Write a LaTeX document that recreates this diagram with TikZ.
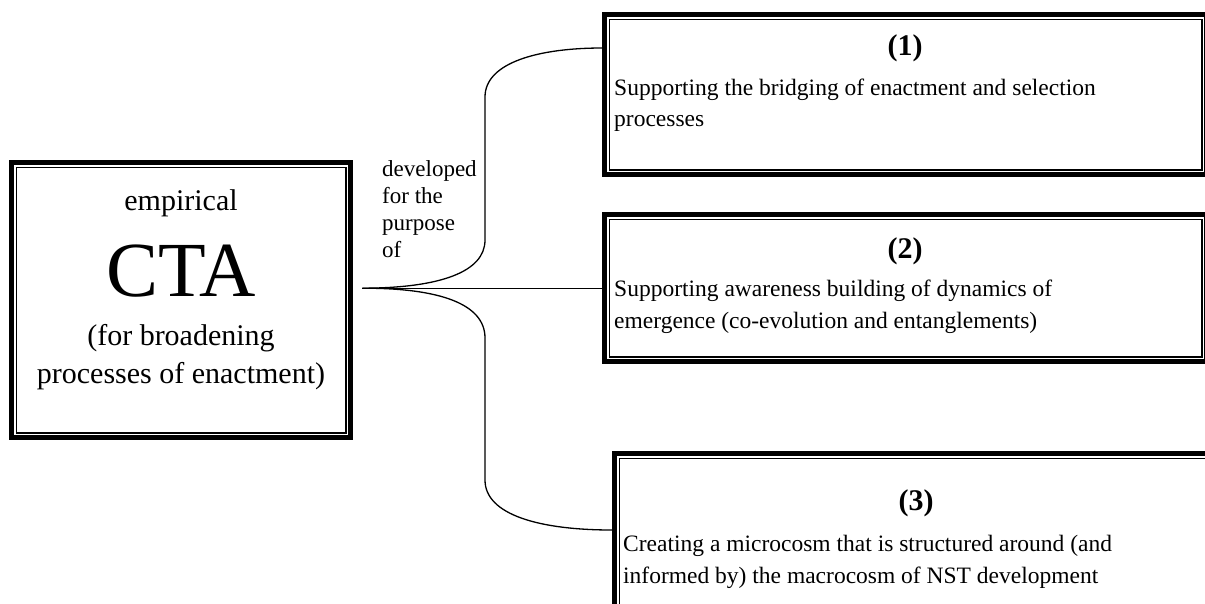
\documentclass[tikz,border=0pt]{standalone}
\usepackage{fontspec}
\setmainfont{Liberation Serif}
\begin{document}
\begin{tikzpicture}[x=1pt,y=-1pt]
\tikzset{
  boxframe/.style={rectangle, draw=none, inner sep=0pt, anchor=north west},
  thickline/.style={line width=5pt},
  thinline/.style={line width=1.5pt},
  bodyline/.style={font=\fontsize{23.5}{31}\selectfont, anchor=base west, inner sep=0pt},
  numline/.style={font=\fontsize{30}{30}\selectfont\bfseries, anchor=base, inner sep=0pt},
  mainline/.style={font=\fontsize{30}{36}\selectfont, anchor=base, inner sep=0pt},
  bigline/.style={font=\fontsize{78}{80}\selectfont, anchor=base, inner sep=0pt},
  noteline/.style={font=\fontsize{23}{27}\selectfont, anchor=base west, inner sep=0pt},
  link/.style={line width=1.3pt},
}
\newcommand\doubleframe[1]{%
  \draw[thickline] ([shift={(2.5,2.5)}]#1.north west) rectangle ([shift={(-2.5,-2.5)}]#1.south east);
  \draw[thinline] ([shift={(7.25,7.25)}]#1.north west) rectangle ([shift={(-7.25,-7.25)}]#1.south east);}

\useasboundingbox (0,0) rectangle (1205,603);
\clip (0,0) rectangle (1205,603);

% frames
\node[boxframe, minimum width=344, minimum height=280] (L) at (9,160) {};
\node[boxframe, minimum width=607, minimum height=165] (b1) at (602,12) {};
\node[boxframe, minimum width=607, minimum height=152] (b2) at (602,212) {};
\node[boxframe, minimum width=607, minimum height=165] (b3) at (612,451) {};
\doubleframe{L}
\doubleframe{b1}
\doubleframe{b2}
\doubleframe{b3}

% left box text
\node[mainline] (l1) at (181,210) {empirical};
\node[bigline]  (l2) at (181,296) {CTA};
\node[mainline] (l3) at (181,345) {(for broadening};
\node[mainline] (l4) at (181,383) {processes of enactment)};

% box 1
\node[numline]  (n1) at (905,55) {(1)};
\node[bodyline] (t1a) at (614,95) {Supporting the bridging of enactment and selection};
\node[bodyline] (t1b) at (614,126) {processes};

% box 2
\node[numline]  (n2) at (905,258) {(2)};
\node[bodyline] (t2a) at (614,296) {Supporting awareness building of dynamics of};
\node[bodyline] (t2b) at (614,328) {emergence (co-evolution and entanglements)};

% box 3
\node[numline]  (n3) at (916,510) {(3)};
\node[bodyline] (t3a) at (623,551) {Creating a microcosm that is structured around (and};
\node[bodyline] (t3b) at (623,583) {informed by) the macrocosm of NST development};

% connector label
\node[noteline] (d1) at (382,176) {developed};
\node[noteline] (d2) at (382,203) {for the};
\node[noteline] (d3) at (382,230) {purpose};
\node[noteline] (d4) at (382,257) {of};

% connectors
\coordinate (hub) at ([shift={(9,-12)}]L.east);
\coordinate (e1) at ([shift={(0,36)}]b1.north west);
\coordinate (e3) at ([shift={(0,79)}]b3.north west);
\draw[link] (hub) -- (b2.west);
\draw[link] (hub) .. controls (440,288) and (485,272) .. (485,240) -- (485,97)
  .. controls (485,62) and (540,48) .. (e1);
\draw[link] (hub) .. controls (440,288) and (485,304) .. (485,338) -- (485,480)
  .. controls (485,515) and (540,530) .. (e3);
\end{tikzpicture}
\end{document}
